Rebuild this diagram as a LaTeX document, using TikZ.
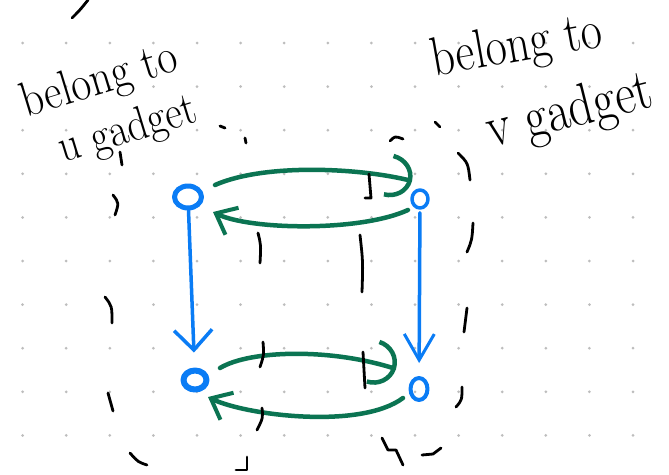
\documentclass[tikz,border=0pt]{standalone}
\usetikzlibrary{arrows.meta,shapes.geometric}
\definecolor{penblue}{HTML}{0A7CF5}
\definecolor{pengreen}{HTML}{0B7452}
\definecolor{dotgray}{HTML}{BDBDBD}
\begin{document}
\begin{tikzpicture}[x=1pt,y=-1pt, line cap=round, line join=round,
  vtx/.style={draw=penblue, ellipse, inner sep=0pt},
  bluearrow/.style={draw=penblue, line width=3.5pt},
  greenarrow/.style={draw=pengreen, line width=4.5pt},
  pen/.style={draw=black, line width=2.8pt},
  note/.style={inner sep=0pt, text=black}
]
\useasboundingbox (0,0) rectangle (669,474);
\fill[white] (0,0) rectangle (669,474);
\foreach \i in {0,...,14} \foreach \j in {1,...,10}
  \fill[dotgray] (22.6+43.6*\i, -0.6+43.6*\j) circle[radius=1.5pt];

% vertices
\node[vtx, line width=5pt, minimum width=27pt, minimum height=22pt] (A) at (188,197) {};
\node[vtx, line width=3.5pt, minimum width=16pt, minimum height=18pt] (B) at (420,199) {};
\node[vtx, line width=6pt, minimum width=23pt, minimum height=19pt] (C) at (195,380) {};
\node[vtx, line width=4pt, minimum width=17pt, minimum height=22pt] (D) at (419,389) {};

% blue arrows
\draw[bluearrow, shorten >=15pt, -{Straight Barb[length=20pt,width=38pt,line width=3.5pt]}] (A) -- (C);
\draw[bluearrow, shorten <=3pt, shorten >=13pt, -{Straight Barb[length=26pt,width=30pt,line width=3pt]}] (B) -- (D);

% green arrows
\draw[greenarrow, -{Arc Barb[length=24pt,width=44pt,line width=4.5pt]}]
  ([shift={(27,-12)}]A.center) .. controls (265,163) and (360,168) .. ([shift={(-8,-18)}]B.center);
\draw[greenarrow, -{Straight Barb[length=18pt,width=30pt,line width=4pt]}]
  ([shift={(-12,11)}]B.center) .. controls (360,232) and (250,230) .. ([shift={(25,15)}]A.center);
\draw[greenarrow, -{Arc Barb[length=24pt,width=46pt,line width=4.5pt]}]
  ([shift={(25,-12)}]C.center) .. controls (250,350) and (330,348) .. ([shift={(-23,-20)}]D.center);
\draw[greenarrow, -{Straight Barb[length=18pt,width=30pt,line width=4pt]}]
  ([shift={(-16,9)}]D.center) .. controls (360,430) and (245,415) .. ([shift={(13,17)}]C.center);

% handwritten notes
\node[note, rotate=17, font=\fontsize{43}{46}\selectfont] (t1) at (100,82) {\scalebox{1}[1.15]{belong to}};
\node[note, rotate=17, font=\fontsize{41}{44}\selectfont] (t2) at (128,131) {\scalebox{1}[1.15]{u gadget}};
\node[note, rotate=10, font=\fontsize{46}{50}\selectfont] (t3) at (517,48) {\scalebox{1}[1.2]{belong to}};
\node[note, rotate=14, font=\fontsize{49}{52}\selectfont] (t4) at (570,113) {\scalebox{1}[1.2]{v gadget}};

% stray stroke at top
\draw[pen] (72,18) .. controls (80,10) .. (88,0);

% dashed boundary (left gadget)
\draw[pen] (220,126) -- (225,128);
\draw[pen] (245,138) -- (246,143);
\draw[pen] (120,152) -- (122,165);
\draw[pen] (113,195) .. controls (119,203) .. (115,215);
\draw[pen] (105,297) .. controls (112,306) .. (112,323);
\draw[pen] (108,393) -- (113,411);
\draw[pen] (130,453) .. controls (138,462) .. (147,465);
\draw[pen] (247,457) -- (247,470) -- (236,470);
\draw[pen] (258,233) .. controls (261,245) .. (260,263);
\draw[pen] (263,342) .. controls (264,355) .. (260,367);
\draw[pen] (262,408) .. controls (263,418) .. (257,430);

% dashed boundary (right gadget)
\draw[pen] (390,141) .. controls (395,136) .. (403,139);
\draw[pen] (435,122) -- (440,127);
\draw[pen] (458,153) .. controls (468,163) .. (470,180);
\draw[pen] (365,198) -- (371,198) -- (369,174);
\draw[pen] (360,235) .. controls (363,262) .. (362,292);
\draw[pen] (363,352) -- (365,388);
\draw[pen] (473,223) .. controls (472,240) .. (467,252);
\draw[pen] (467,308) -- (464,332);
\draw[pen] (462,387) .. controls (462,400) .. (456,407);
\draw[pen] (382,438) -- (388,450) -- (396,450) -- (403,465);
\draw[pen] (422,455) -- (433,454) -- (441,448);
\end{tikzpicture}
\end{document}
